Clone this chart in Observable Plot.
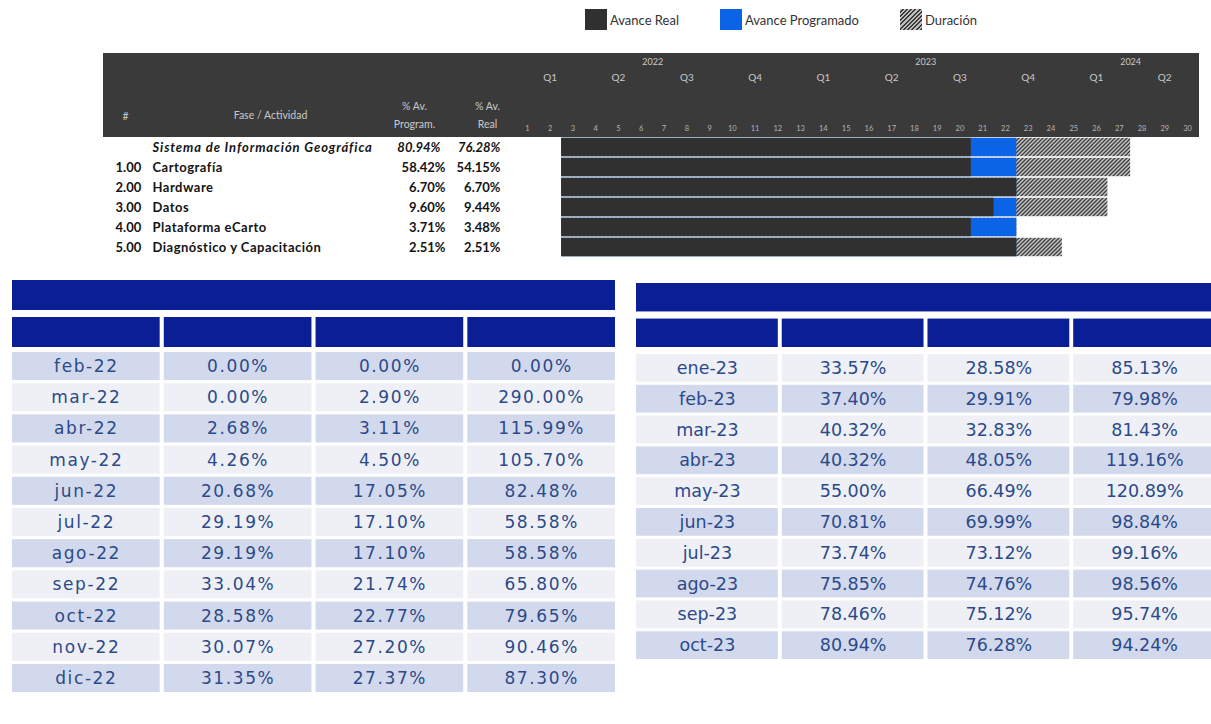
<!DOCTYPE html>
<html>
<head>
<meta charset="utf-8">
<script src="https://cdn.jsdelivr.net/npm/d3@7"></script>
<script src="https://cdn.jsdelivr.net/npm/@observablehq/plot@0.6"></script>
<style>
  body { margin: 0; background: #fff; }
  #root { position: relative; width: 1211px; height: 724px; overflow: hidden; background: #fff; font-family: Lato, "Open Sans", sans-serif; }
  #root > * { position: absolute; }
  .lg-item { display: flex; align-items: center; font-size: 13px; color: #333; white-space: nowrap; }
  .lg-sw { width: 22px; height: 21px; margin-right: 3px; }
</style>
</head>
<body>
<div id="root"></div>
<script>
// ---------------- DATA ----------------
// Gantt activities
const activityNums  = ["", "1.00", "2.00", "3.00", "4.00", "5.00"];
const activityNames = ["Sistema de Información Geográfica", "Cartografía", "Hardware", "Datos", "Plataforma eCarto", "Diagnóstico y Capacitación"];
const pctProgram    = [80.94, 58.42, 6.70, 9.60, 3.71, 2.51];
const pctReal       = [76.28, 54.15, 6.70, 9.44, 3.48, 2.51];
// month numbers (1 = ene-2022)
const startMonth    = [3, 3, 3, 3, 3, 3];
const realEndMonth  = [20, 20, 22, 21, 20, 22];
const progEndMonth  = [22, 22, 22, 22, 22, 22];
const durEndMonth   = [27, 27, 26, 26, 22, 24];

// Gantt header tick labels
const yearLabels    = ["2022", "2023", "2024"];
const quarterLabels = ["Q1", "Q2", "Q3", "Q4", "Q1", "Q2", "Q3", "Q4", "Q1", "Q2"];
const monthTicks    = [1,2,3,4,5,6,7,8,9,10,11,12,13,14,15,16,17,18,19,20,21,22,23,24,25,26,27,28,29,30];
const ganttHeaders  = ["#", "Fase / Actividad", "% Av.\nProgram.", "% Av.\nReal"];

// Legend
const legendLabels  = ["Avance Real", "Avance Programado", "Duración"];

// Monthly tables
const monthAbbr  = ["ene","feb","mar","abr","may","jun","jul","ago","sep","oct","nov","dic"];
const tableCols  = ["mes", "prog", "real", "ratio"];

const monthsA = ["feb-22","mar-22","abr-22","may-22","jun-22","jul-22","ago-22","sep-22","oct-22","nov-22","dic-22"];
const progA   = [0.00, 0.00, 2.68, 4.26, 20.68, 29.19, 29.19, 33.04, 28.58, 30.07, 31.35];
const realA   = [0.00, 2.90, 3.11, 4.50, 17.05, 17.10, 17.10, 21.74, 22.77, 27.20, 27.37];
const ratioA  = [0.00, 290.00, 115.99, 105.70, 82.48, 58.58, 58.58, 65.80, 79.65, 90.46, 87.30];

const monthsB = ["ene-23","feb-23","mar-23","abr-23","may-23","jun-23","jul-23","ago-23","sep-23","oct-23"];
const progB   = [33.57, 37.40, 40.32, 40.32, 55.00, 70.81, 73.74, 75.85, 78.46, 80.94];
const realB   = [28.58, 29.91, 32.83, 48.05, 66.49, 69.99, 73.12, 74.76, 75.12, 76.28];
const ratioB  = [85.13, 79.98, 81.43, 119.16, 120.89, 98.84, 99.16, 98.56, 95.74, 94.24];

// ---------------- STYLE ----------------
const DARK = "#303030", HEADER = "#3a3a3a", BLUE = "#0b63e5";
const NAVY = "#0a1f95", SHADE_DARK = "#d3d9ec", SHADE_LIGHT = "#eef0f6", TXT = "#2b4a8a";
const pct = v => v.toFixed(2) + "%";
const root = document.getElementById("root");
function place(el, left, top) { el.style.left = left + "px"; el.style.top = top + "px"; root.appendChild(el); return el; }

// ---------------- LEGEND ----------------
const swatchStyles = [
  `background:${DARK}`,
  `background:${BLUE}`,
  `background: repeating-linear-gradient(135deg, #bdbdbd 0 1.6px, #3a3a3a 1.6px 3px)`
];
const legendLeft = [585, 720, 900];
legendLabels.forEach((lab, i) => {
  const d = document.createElement("div");
  d.className = "lg-item";
  d.innerHTML = `<div class="lg-sw" style="${swatchStyles[i]}"></div><span>${lab}</span>`;
  place(d, legendLeft[i], 9);
});

// ---------------- GANTT ----------------
const X0 = 515.6, MW = 22.76; // frame left (page px), month width
const rows = activityNames.map((name, i) => ({
  key: String(i), num: activityNums[i], name,
  prog: pctProgram[i], real: pctReal[i],
  x0: startMonth[i] - 1, realEnd: realEndMonth[i], progEnd: progEndMonth[i], durEnd: durEndMonth[i]
}));
const yearCenter = i => (12 * i + Math.min(12 * i + 12, monthTicks.length)) / 2;

const hdrTxt = { fill: "#c9c9c9", fontFamily: "Lato", fontSize: 10.5, lineAnchor: "middle", textAnchor: "middle" };
const header = Plot.plot({
  width: 1096, height: 84,
  marginLeft: X0 - 103, marginRight: 1096 - (X0 - 103) - 30 * MW, marginTop: 0, marginBottom: 0,
  style: { background: HEADER, overflow: "visible" },
  x: { domain: [0, 30], axis: null },
  marks: [
    Plot.text(yearLabels, { x: (d, i) => yearCenter(i), frameAnchor: "top", dy: 9, ...hdrTxt, fontSize: 9 }),
    Plot.text(quarterLabels, { x: (d, i) => i * 3 + 1.5, frameAnchor: "top", dy: 24, ...hdrTxt, fontSize: 10 }),
    Plot.text(monthTicks, { x: d => d - 0.5, frameAnchor: "top", dy: 75, ...hdrTxt, fill: "#b5b5b5", fontSize: 7.5 }),
    Plot.text([ganttHeaders[0]], { frameAnchor: "top-left", dx: 125 - X0, dy: 63, ...hdrTxt }),
    Plot.text([ganttHeaders[1]], { frameAnchor: "top-left", dx: 270 - X0, dy: 62, ...hdrTxt }),
    Plot.text([ganttHeaders[2]], { frameAnchor: "top-left", dx: 414 - X0, dy: 59.5, lineHeight: 1.8, ...hdrTxt }),
    Plot.text([ganttHeaders[3]], { frameAnchor: "top-left", dx: 487 - X0, dy: 59.5, lineHeight: 1.8, ...hdrTxt })
  ]
});
place(header, 103, 53);

const rowTxt = { fontFamily: "Lato", fontWeight: "bold", fontSize: 13, fill: "#141414" };
const first = rows.filter(d => d.num === ""), rest = rows.filter(d => d.num !== "");
const gantt = Plot.plot({
  width: 1211, height: 122,
  marginLeft: X0, marginRight: 1211 - X0 - 30 * MW, marginTop: 0, marginBottom: 2,
  style: { background: "transparent", overflow: "visible" },
  x: { domain: [0, 30], axis: null },
  y: { domain: rows.map(d => d.key), axis: null, padding: 0, round: false },
  marks: [
    Plot.barX(rows, { y: "key", x1: "x0", x2: "durEnd", fill: "url(#hatch)", insetTop: 0.8, insetBottom: 0.8 }),
    Plot.barX(rows, { y: "key", x1: "x0", x2: "progEnd", fill: BLUE, insetTop: 0.8, insetBottom: 0.8 }),
    Plot.barX(rows, { y: "key", x1: "x0", x2: "realEnd", fill: DARK, insetTop: 0.8, insetBottom: 0.8 }),
    Plot.text(rest, { y: "key", text: "num", frameAnchor: "left", dx: 115 - X0, textAnchor: "start", ...rowTxt }),
    Plot.text(rest, { y: "key", text: "name", frameAnchor: "left", dx: 152 - X0, textAnchor: "start", className: "nm", ...rowTxt }),
    Plot.text(rest, { y: "key", text: d => pct(d.prog), frameAnchor: "left", dx: 445 - X0, textAnchor: "end", ...rowTxt }),
    Plot.text(rest, { y: "key", text: d => pct(d.real), frameAnchor: "left", dx: 500 - X0, textAnchor: "end", ...rowTxt }),
    Plot.text(first, { y: "key", text: "name", frameAnchor: "left", dx: 152 - X0, textAnchor: "start", fontStyle: "italic", className: "nm1", ...rowTxt }),
    Plot.text(first, { y: "key", text: d => pct(d.prog), frameAnchor: "left", dx: 440 - X0, textAnchor: "end", fontStyle: "italic", ...rowTxt }),
    Plot.text(first, { y: "key", text: d => pct(d.real), frameAnchor: "left", dx: 500 - X0, textAnchor: "end", fontStyle: "italic", ...rowTxt })
  ]
});
gantt.querySelectorAll("g.nm text").forEach(t => t.style.letterSpacing = "0.5px");
gantt.querySelectorAll("g.nm1 text").forEach(t => t.style.letterSpacing = "0.9px");
d3.select(gantt).insert("defs", ":first-child").html(`
  <pattern id="hatch" patternUnits="userSpaceOnUse" width="4" height="4">
    <rect width="4" height="4" fill="#c4c4c4"></rect>
    <path d="M-1,1 l2,-2 M0,4 l4,-4 M3,5 l2,-2" stroke="#3c3c3c" stroke-width="1.3"></path>
  </pattern>`);
place(gantt, 0, 137);

// ---------------- TABLES ----------------
function makeTable(months, prog, real, ratio, c) {
  const xOpt = { domain: tableCols, axis: null, paddingInner: c.colPad, paddingOuter: 0, round: false };
  const head = Plot.plot({
    width: c.width, height: c.headH,
    marginLeft: c.mL, marginRight: c.mR, marginTop: 4, marginBottom: 4,
    style: { background: "transparent", overflow: "visible" },
    x: xOpt,
    y: { domain: ["title", "cols"], axis: null, paddingInner: c.headPad, paddingOuter: 0, round: false },
    marks: [
      Plot.cell(["title"], { y: d => d, fill: NAVY }),
      Plot.cell(tableCols, { x: d => d, y: () => "cols", fill: NAVY })
    ]
  });
  place(head, c.left, c.headTop);

  const cells = [];
  months.forEach((m, i) => {
    const shade = (monthAbbr.indexOf(m.slice(0, 3)) + 1) % 2 === 0 ? "dark" : "light";
    const texts = [m, pct(prog[i]), pct(real[i]), pct(ratio[i])];
    tableCols.forEach((col, j) => cells.push({ row: m, col, text: texts[j], shade }));
  });
  const txt = { fill: TXT, fontFamily: "DejaVu Sans", fontSize: c.fontSize };
  const body = Plot.plot({
    width: c.width, height: c.bodyH,
    marginLeft: c.mL, marginRight: c.mR, marginTop: 4, marginBottom: 4,
    style: { background: "transparent", overflow: "visible" },
    x: xOpt,
    y: { domain: months, axis: null, paddingInner: 0.1, paddingOuter: 0, round: false },
    marks: [
      Plot.cell(cells.filter(d => d.shade === "dark"), { x: "col", y: "row", fill: SHADE_DARK }),
      Plot.cell(cells.filter(d => d.shade === "light"), { x: "col", y: "row", fill: SHADE_LIGHT }),
      Plot.text(cells, { x: "col", y: "row", text: "text", ...txt })
    ]
  });
  body.querySelectorAll("text").forEach(t => t.style.letterSpacing = c.spacing);
  place(body, c.left, c.bodyTop);
}

makeTable(monthsA, progA, realA, ratioA, {
  left: 0, width: 620, mL: 12, mR: 5, colPad: 0.027,
  headTop: 276, headH: 75, headPad: 0.19,
  bodyTop: 348, bodyH: 348, fontSize: 17, spacing: "1.6px"
});
makeTable(monthsB, progB, realB, ratioB, {
  left: 630, width: 581, mL: 6, mR: -4, colPad: 0.027,
  headTop: 279, headH: 72, headPad: 0.2,
  bodyTop: 350, bodyH: 313, fontSize: 17.5, spacing: "0px"
});
</script>
</body>
</html>
